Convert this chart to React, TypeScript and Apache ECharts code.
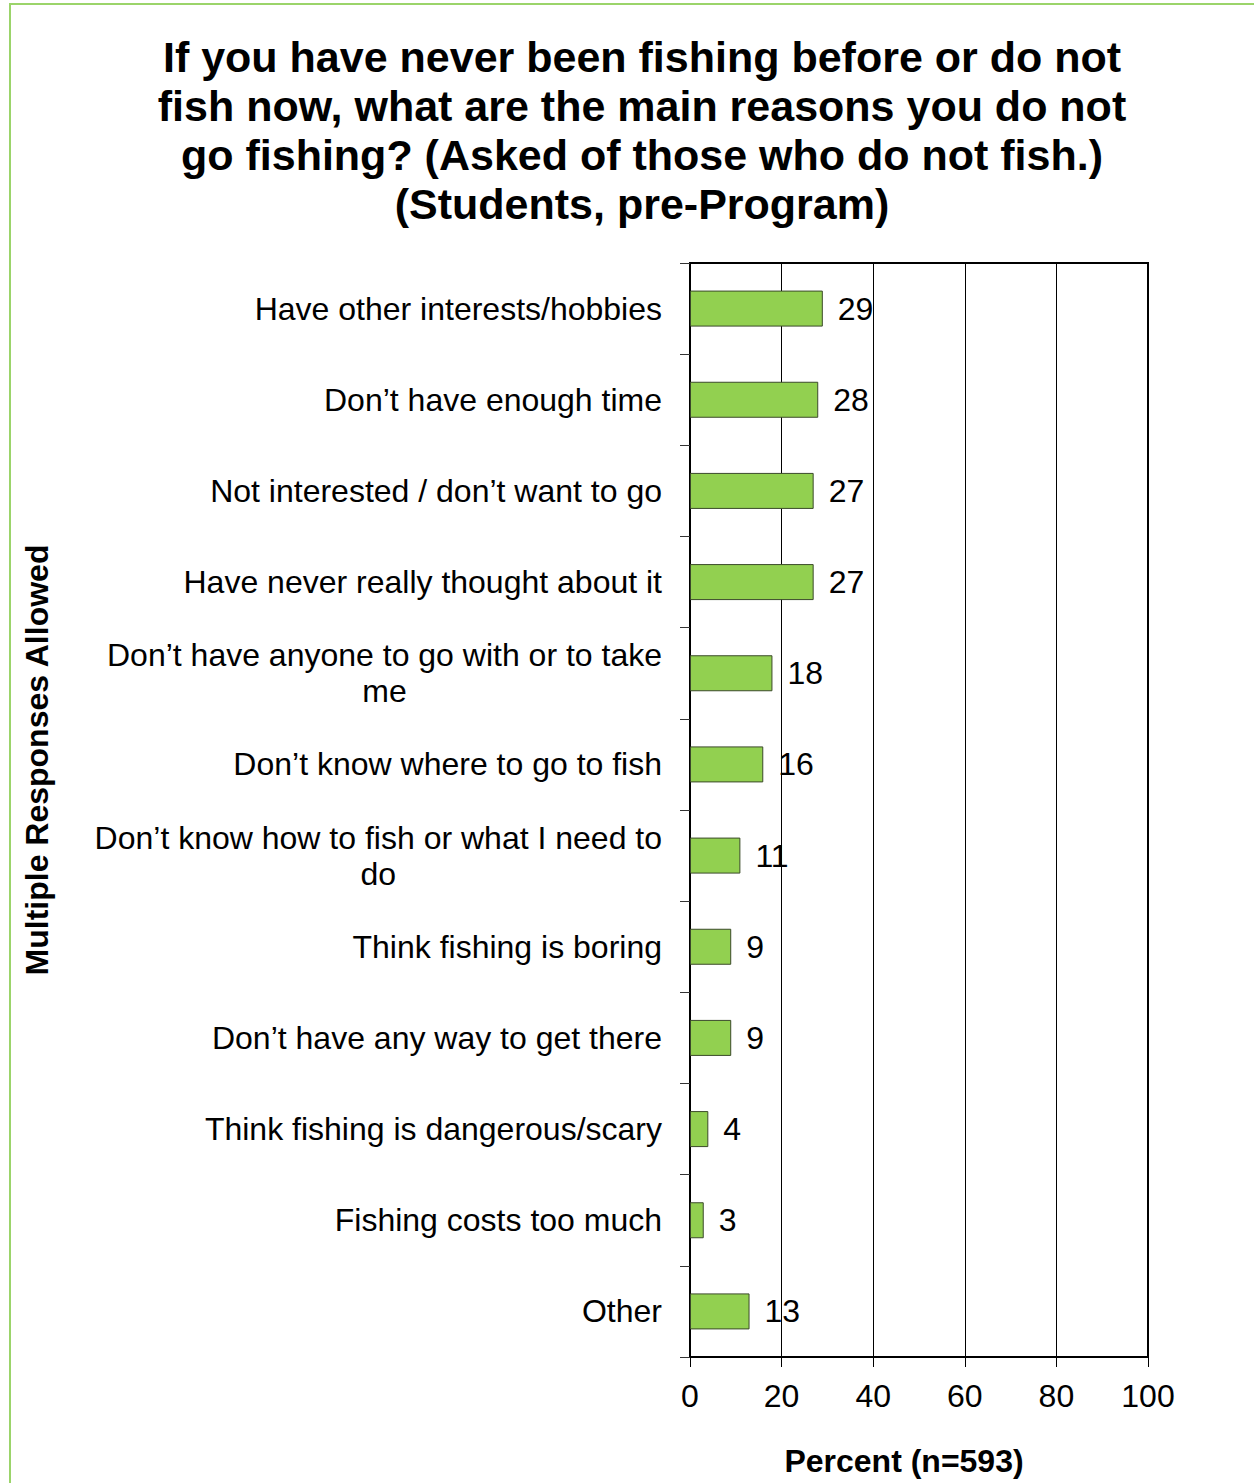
import React, { useEffect, useRef } from "react";
import * as echarts from "echarts";

const categories = [
  "Have other interests/hobbies",
  "Don\u2019t have enough time",
  "Not interested / don\u2019t want to go",
  "Have never really thought about it",
  "Don\u2019t have anyone to go with or to take\nme",
  "Don\u2019t know where to go to fish",
  "Don\u2019t know how to fish or what I need to\ndo",
  "Think fishing is boring",
  "Don\u2019t have any way to get there",
  "Think fishing is dangerous/scary",
  "Fishing costs too much",
  "Other",
];
const values = [29, 28, 27, 27, 18, 16, 11, 9, 9, 4, 3, 13];
const xTicks = [0, 20, 40, 60, 80, 100];

const titleText =
  "If you have never been fishing before or do not\nfish now, what are the main reasons you do not\ngo fishing? (Asked of those who do not fish.)\n(Students, pre-Program)";
const xTitle = "Percent (n=593)";
const yTitle = "Multiple Responses Allowed";

const FONT = "'Liberation Sans', Arial, sans-serif";

export default function App() {
  const ref = useRef<HTMLDivElement>(null);
  useEffect(() => {
    document.body.style.margin = "0";
    const chart = echarts.init(ref.current!, null, { renderer: "svg" });
    chart.setOption({
      animation: false,
      backgroundColor: "#ffffff",
      textStyle: { fontFamily: FONT },
      title: {
        text: titleText,
        left: 642,
        top: 32,
        padding: 0,
        textAlign: "center",
        textStyle: {
          fontFamily: FONT,
          fontSize: 43,
          fontWeight: "bold",
          lineHeight: 49,
          color: "#000",
        },
      },
      grid: {
        left: 690,
        top: 263,
        width: 458,
        height: 1094,
        show: true,
        borderColor: "#000",
        borderWidth: 2,
        backgroundColor: "transparent",
      },
      xAxis: {
        type: "value",
        min: 0,
        max: 100,
        interval: 20,
        axisLine: { show: true, lineStyle: { color: "#000", width: 2 } },
        axisTick: { show: true, length: 10, lineStyle: { color: "#000", width: 1 } },
        axisLabel: {
          margin: 23,
          fontSize: 32,
          color: "#000",
          fontFamily: FONT,
          formatter: (v: number) => (xTicks.includes(v) ? String(v) : ""),
        },
        splitLine: { show: true, lineStyle: { color: "#000", width: 1 } },
      },
      yAxis: {
        type: "category",
        data: categories,
        inverse: true,
        axisLine: { show: true, lineStyle: { color: "#000", width: 2 } },
        axisTick: { show: true, length: 10, lineStyle: { color: "#333", width: 1 } },
        axisLabel: {
          margin: 28,
          fontSize: 32,
          color: "#000",
          fontFamily: FONT,
          lineHeight: 36,
          formatter: (v: string) =>
            v.split("\n").map((l) => `{c|${l}}`).join("\n"),
          rich: {
            c: {
              align: "center",
              fontSize: 32,
              lineHeight: 36,
              color: "#000",
              fontFamily: FONT,
            },
          },
        },
      },
      series: [
        {
          type: "bar",
          data: values,
          barWidth: 36,
          itemStyle: { color: "#92D050", borderColor: "#3b4a2a", borderWidth: 1 },
          label: {
            show: true,
            position: "right",
            distance: 15,
            fontSize: 32,
            color: "#000",
            fontFamily: FONT,
          },
        },
      ],
      graphic: [
        {
          type: "rect",
          shape: { x: 10, y: 4, width: 1300, height: 1500 },
          style: { fill: "none", stroke: "#9BD46A", lineWidth: 2 },
          silent: true,
        },
        {
          type: "text",
          x: 37,
          y: 760,
          rotation: Math.PI / 2,
          style: {
            text: yTitle,
            fontFamily: FONT,
            fontSize: 32,
            fontWeight: "bold",
            fill: "#000",
            textAlign: "center",
            textVerticalAlign: "middle",
          },
        },
        {
          type: "text",
          x: 904,
          y: 1461,
          style: {
            text: xTitle,
            fontFamily: FONT,
            fontSize: 32,
            fontWeight: "bold",
            fill: "#000",
            textAlign: "center",
            textVerticalAlign: "middle",
          },
        },
      ],
    });
    return () => chart.dispose();
  }, []);
  return <div ref={ref} style={{ width: 1254, height: 1483 }} />;
}
